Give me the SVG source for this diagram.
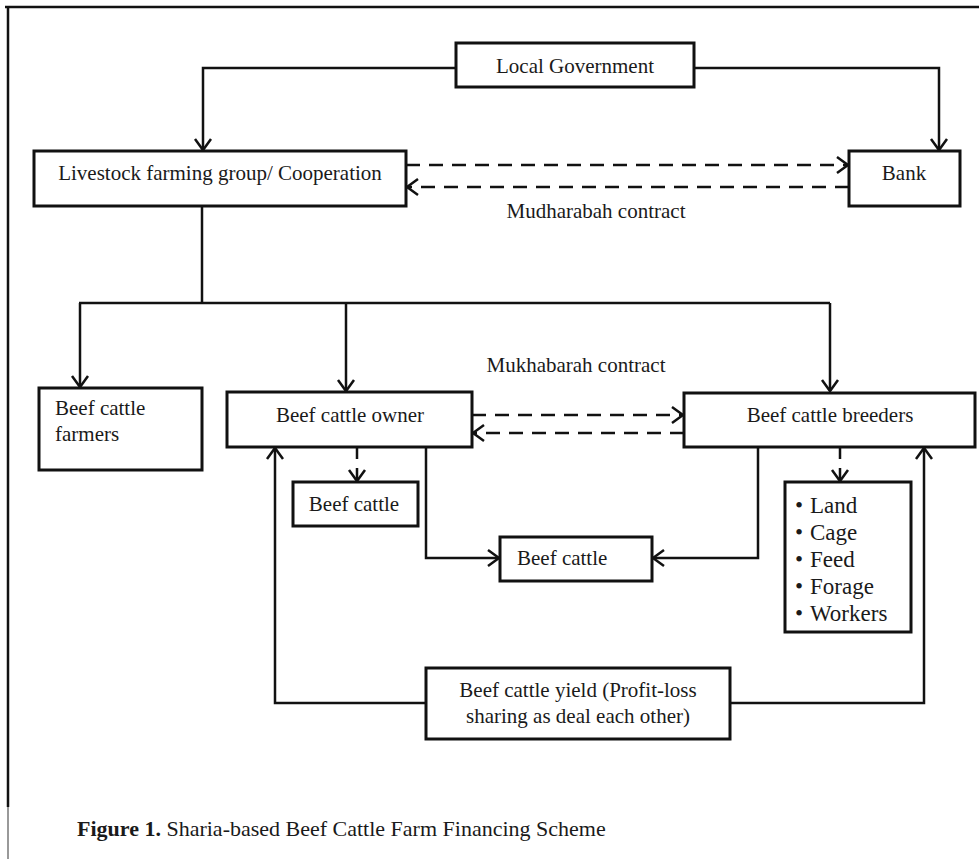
<svg xmlns="http://www.w3.org/2000/svg" width="979" height="859" viewBox="0 0 979 859">
<defs>
<style>
.box{fill:#fff;stroke:#111;stroke-width:3}
.t{font-family:"Liberation Serif","Times New Roman",serif;font-size:21px;fill:#1a1a1a}
.c{text-anchor:middle}
.ln{fill:none;stroke:#111;stroke-width:2.5}
.ar{marker-end:url(#arr)}
.dash{stroke-dasharray:14 9}
.sdash{stroke-dasharray:11 9}
</style>
<marker id="arr" markerWidth="16" markerHeight="20" refX="13" refY="10" orient="auto" markerUnits="userSpaceOnUse" overflow="visible">
<path d="M2,2 L13,10 L2,18" fill="none" stroke="#111" stroke-width="2.5"/>
</marker>
</defs>
<rect width="979" height="859" fill="#fff"/>
<g id="frame">
<line x1="5" y1="7" x2="979" y2="7" stroke="#111" stroke-width="2.5"/>
<line x1="8" y1="6" x2="8" y2="807" stroke="#111" stroke-width="2.5"/>
<line x1="8" y1="807" x2="8" y2="859" stroke="#777" stroke-width="1.5"/>
</g>
<g id="connectors">
<path class="ln ar" d="M456,68 H203 V150"/>
<path class="ln ar" d="M694,68 H939 V150"/>
<path class="ln ar dash" d="M406,165 H848"/>
<path class="ln ar dash" d="M849,187 H407"/>
<path class="ln" d="M202,206 V303"/>
<path class="ln" d="M79,303 H830"/>
<path class="ln ar" d="M80,303 V387"/>
<path class="ln ar" d="M346,303 V391"/>
<path class="ln ar" d="M830,303 V391"/>
<path class="ln ar dash" d="M472,415 H683"/>
<path class="ln ar dash" d="M684,433 H473"/>
<path class="ln ar sdash" d="M357,448 V481"/>
<path class="ln ar" d="M426,447 V558 H499"/>
<path class="ln ar" d="M758,447 V558 H653"/>
<path class="ln ar sdash" d="M840,448 V481"/>
<path class="ln ar" d="M426,703 H275 V448"/>
<path class="ln ar" d="M730,703 H924 V448"/>
</g>
<g id="local-government">
<rect class="box" x="456" y="43" width="238" height="44"/>
<text class="t c" x="575" y="73">Local Government</text>
</g>
<g id="livestock-group">
<rect class="box" x="34" y="151" width="372" height="55"/>
<text class="t c" x="220" y="180">Livestock farming group/ Cooperation</text>
</g>
<g id="bank">
<rect class="box" x="849" y="151" width="111" height="55"/>
<text class="t c" x="904" y="180">Bank</text>
</g>
<g id="mudharabah-label">
<text class="t c" x="596" y="218">Mudharabah contract</text>
</g>
<g id="mukhabarah-label">
<text class="t c" x="576" y="372">Mukhabarah contract</text>
</g>
<g id="beef-cattle-farmers">
<rect class="box" x="39" y="388" width="163" height="82"/>
<text class="t" x="55" y="415">Beef cattle</text>
<text class="t" x="55" y="441">farmers</text>
</g>
<g id="beef-cattle-owner">
<rect class="box" x="227" y="392" width="245" height="55"/>
<text class="t c" x="350" y="422">Beef cattle owner</text>
</g>
<g id="beef-cattle-breeders">
<rect class="box" x="684" y="393" width="291" height="54"/>
<text class="t c" x="830" y="422">Beef cattle breeders</text>
</g>
<g id="beef-cattle-1">
<rect class="box" x="293" y="482" width="125" height="44"/>
<text class="t c" x="354" y="511">Beef cattle</text>
</g>
<g id="beef-cattle-2">
<rect class="box" x="500" y="537" width="152" height="44"/>
<text class="t" x="517" y="565">Beef cattle</text>
</g>
<g id="resources">
<rect class="box" x="785" y="482" width="126" height="150"/>
<g class="t" style="font-size:23px">
<text x="795" y="513">•</text><text x="810" y="513">Land</text>
<text x="795" y="540">•</text><text x="810" y="540">Cage</text>
<text x="795" y="567">•</text><text x="810" y="567">Feed</text>
<text x="795" y="594">•</text><text x="810" y="594">Forage</text>
<text x="795" y="621">•</text><text x="810" y="621">Workers</text>
</g>
</g>
<g id="yield">
<rect class="box" x="426" y="668" width="304" height="71"/>
<text class="t c" x="578" y="697">Beef cattle yield (Profit-loss</text>
<text class="t c" x="578" y="723">sharing as deal each other)</text>
</g>
<g id="caption">
<text class="t" x="77" y="836" style="font-size:22px"><tspan font-weight="bold">Figure 1.</tspan> Sharia-based Beef Cattle Farm Financing Scheme</text>
</g>
</svg>
